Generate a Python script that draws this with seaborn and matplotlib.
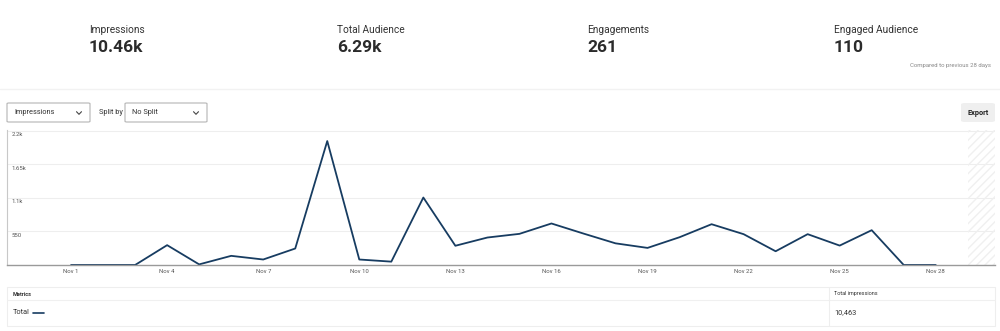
import matplotlib
matplotlib.use("Agg")
import matplotlib.pyplot as plt
from matplotlib.patches import Rectangle, FancyBboxPatch
from matplotlib.lines import Line2D
import seaborn as sns
import pandas as pd

sns.set_theme(style="white")
plt.rcParams['font.family'] = ['Roboto', 'DejaVu Sans']

# ---- data ----
kpi_labels = ["Impressions", "Total Audience", "Engagements", "Engaged Audience"]
kpi_values = ["10.46k", "6.29k", "261", "110"]
days = [1, 2, 3, 4, 5, 6, 7, 8, 9, 10, 11, 12, 13, 14,
        15, 16, 17, 18, 19, 20, 21, 22, 23, 24, 25, 26, 27, 28]
impressions = [0, 0, 0, 325, 10, 150, 90, 270, 2030, 90, 55, 1105, 315, 450,
               510, 680, 515, 355, 280, 455, 668, 505, 225, 505, 318, 570, 0, 0]
x_ticks = [1, 4, 7, 10, 13, 16, 19, 22, 25, 28]
x_tick_labels = ["Nov 1", "Nov 4", "Nov 7", "Nov 10", "Nov 13", "Nov 16",
                 "Nov 19", "Nov 22", "Nov 25", "Nov 28"]
y_ticks = [550, 1100, 1650, 2200]
y_tick_labels = ["550", "1.1k", "1.65k", "2.2k"]
total_impr = "10,463"

LINE = "#173c61"
W, H = 1000, 331
fig = plt.figure(figsize=(W / 100, H / 100), dpi=100)
fig.patch.set_facecolor("white")

def fx(px):
    return px / W

def fy(py):
    return 1 - py / H

# ---- KPI header ----
kpi_x = [89, 337, 587, 834]
for x, lab, val in zip(kpi_x, kpi_labels, kpi_values):
    fig.text(fx(x), fy(30), lab, fontsize=7.3, color="#333333", va="center", ha="left")
    fig.text(fx(x), fy(47), val, fontsize=12.5, color="#2b2b2b", weight="bold",
             va="center", ha="left")
fig.text(fx(991), fy(66), "Compared to previous 28 days", fontsize=4.3,
         color="#888888", va="center", ha="right")
fig.add_artist(Line2D([0, 1], [fy(89), fy(89)], color="#f2f2f2", lw=1))

# ---- controls ----
def dropdown(x0, x1, text):
    r = FancyBboxPatch((fx(x0), fy(122)), fx(x1 - x0), (122 - 103) / H,
                       boxstyle="round,pad=0,rounding_size=0.002",
                       fc="white", ec="#b5b5b5", lw=0.8, transform=fig.transFigure)
    fig.add_artist(r)
    fig.text(fx(x0 + 7), fy(113), text, fontsize=5.3, color="#333333", va="center")
    cx, cy = x1 - 11, 113
    fig.add_artist(Line2D([fx(cx - 2.5), fx(cx), fx(cx + 2.5)],
                          [fy(cy - 1.3), fy(cy + 1.3), fy(cy - 1.3)],
                          color="#444444", lw=0.8))

dropdown(7, 90, "Impressions")
fig.text(fx(99), fy(113), "Split by", fontsize=5.3, color="#333333", va="center")
dropdown(125, 207, "No Split")

exp = FancyBboxPatch((fx(961), fy(122)), fx(34), 19 / H,
                     boxstyle="round,pad=0,rounding_size=0.004",
                     fc="#efefef", ec="none", transform=fig.transFigure)
fig.add_artist(exp)
fig.text(fx(978), fy(113), "Export", fontsize=5.3, color="#222222", weight="bold",
         va="center", ha="center")

# ---- main chart ----
ax = fig.add_axes([fx(7), fy(265), fx(988), (265 - 130) / H])
df = pd.DataFrame({"day": days, "impressions": impressions})
sns.lineplot(data=df, x="day", y="impressions", ax=ax, color=LINE, lw=1.3)
ax.set_xlim(-1, 29.85)
ax.set_ylim(0, 2211)
ax.axvspan(29, 29.85, facecolor="none", edgecolor="#f0f0f0", hatch="////", lw=0)
for yv in y_ticks:
    ax.axhline(yv, color="#eeeeee", lw=0.8, zorder=0)
for yv, lab in zip(y_ticks, y_tick_labels):
    ax.text(0.005, yv - 25, lab, transform=ax.get_yaxis_transform(),
            fontsize=4.3, color="#555555", va="top", ha="left")
ax.set_yticks([])
ax.set_xticks(x_ticks)
ax.set_xticklabels(x_tick_labels, fontsize=4.3, color="#555555")
ax.tick_params(axis="x", length=0, pad=3)
ax.set_xlabel("")
ax.set_ylabel("")
for s in ["top", "right"]:
    ax.spines[s].set_visible(False)
ax.spines["left"].set_color("#c8c8c8")
ax.spines["left"].set_linewidth(0.8)
ax.spines["bottom"].set_color("#9a9a9a")
ax.spines["bottom"].set_linewidth(1.0)

# ---- metrics table ----
tbl = Rectangle((fx(7), fy(326)), fx(988), (326 - 287) / H, fc="white",
                ec="#eeeeee", lw=0.8, transform=fig.transFigure)
fig.add_artist(tbl)
fig.add_artist(Line2D([fx(7), fx(995)], [fy(300), fy(300)], color="#f0f0f0", lw=0.8))
fig.add_artist(Line2D([fx(829), fx(829)], [fy(287), fy(326)], color="#eeeeee", lw=0.8))
fig.text(fx(13), fy(294), "Metrics", fontsize=4.0, color="#333333", weight="bold", va="center")
fig.text(fx(13), fy(313), "Total", fontsize=5.3, color="#333333", va="center")
fig.add_artist(Line2D([fx(33), fx(44)], [fy(313), fy(313)], color=LINE, lw=1.2))
fig.text(fx(834), fy(294), "Total impressions", fontsize=4.0, color="#333333", va="center")
fig.text(fx(834), fy(313), total_impr, fontsize=5.3, color="#333333", va="center")

fig.savefig("out.png", dpi=100, facecolor="white")
